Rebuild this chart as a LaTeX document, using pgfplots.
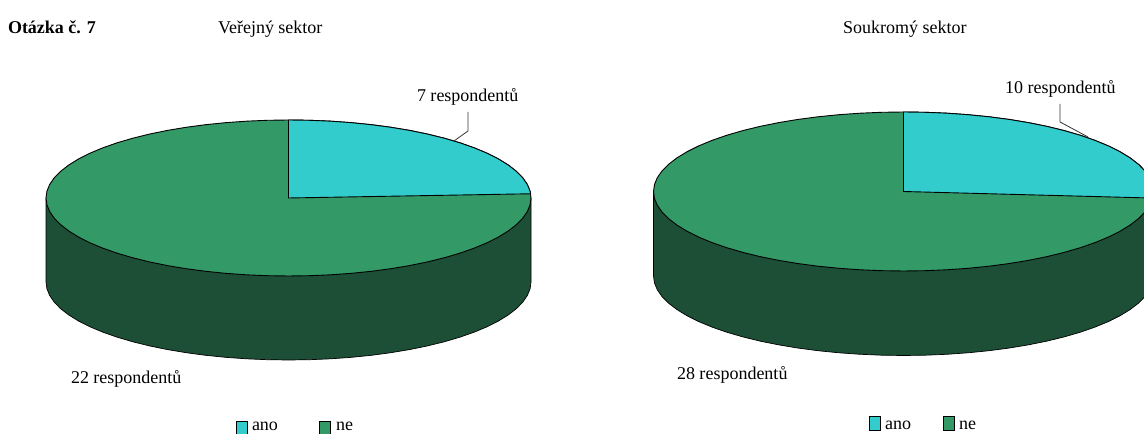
\documentclass[border=0pt]{standalone}
\usepackage{pgfplots}
\usepackage{pgfplotstable}
\usepackage{fontspec}
\setmainfont{Liberation Serif}
\pgfplotsset{compat=1.18}

\definecolor{ano}{HTML}{33CCCC}
\definecolor{ne}{HTML}{339966}
\definecolor{wall}{HTML}{1C4F35}

% Unit ellipse, 5 degree steps: the "ne" disc
\pgfplotstableread{
c s
1.0000 0.0000
0.9962 0.0872
0.9848 0.1736
0.9659 0.2588
0.9397 0.3420
0.9063 0.4226
0.8660 0.5000
0.8192 0.5736
0.7660 0.6428
0.7071 0.7071
0.6428 0.7660
0.5736 0.8192
0.5000 0.8660
0.4226 0.9063
0.3420 0.9397
0.2588 0.9659
0.1736 0.9848
0.0872 0.9962
0.0000 1.0000
-0.0872 0.9962
-0.1736 0.9848
-0.2588 0.9659
-0.3420 0.9397
-0.4226 0.9063
-0.5000 0.8660
-0.5736 0.8192
-0.6428 0.7660
-0.7071 0.7071
-0.7660 0.6428
-0.8192 0.5736
-0.8660 0.5000
-0.9063 0.4226
-0.9397 0.3420
-0.9659 0.2588
-0.9848 0.1736
-0.9962 0.0872
-1.0000 0.0000
-0.9962 -0.0872
-0.9848 -0.1736
-0.9659 -0.2588
-0.9397 -0.3420
-0.9063 -0.4226
-0.8660 -0.5000
-0.8192 -0.5736
-0.7660 -0.6428
-0.7071 -0.7071
-0.6428 -0.7660
-0.5736 -0.8192
-0.5000 -0.8660
-0.4226 -0.9063
-0.3420 -0.9397
-0.2588 -0.9659
-0.1736 -0.9848
-0.0872 -0.9962
0.0000 -1.0000
0.0872 -0.9962
0.1736 -0.9848
0.2588 -0.9659
0.3420 -0.9397
0.4226 -0.9063
0.5000 -0.8660
0.5736 -0.8192
0.6428 -0.7660
0.7071 -0.7071
0.7660 -0.6428
0.8192 -0.5736
0.8660 -0.5000
0.9063 -0.4226
0.9397 -0.3420
0.9659 -0.2588
0.9848 -0.1736
0.9962 -0.0872
}\discpoints

% Side wall: the front half of the rim, d = 1 sits at the lower edge
\pgfplotstableread{
c s d
-1.0000 0.0000 0
-1.0000 0.0000 1
-0.9962 -0.0872 1
-0.9848 -0.1736 1
-0.9659 -0.2588 1
-0.9397 -0.3420 1
-0.9063 -0.4226 1
-0.8660 -0.5000 1
-0.8192 -0.5736 1
-0.7660 -0.6428 1
-0.7071 -0.7071 1
-0.6428 -0.7660 1
-0.5736 -0.8192 1
-0.5000 -0.8660 1
-0.4226 -0.9063 1
-0.3420 -0.9397 1
-0.2588 -0.9659 1
-0.1736 -0.9848 1
-0.0872 -0.9962 1
0.0000 -1.0000 1
0.0872 -0.9962 1
0.1736 -0.9848 1
0.2588 -0.9659 1
0.3420 -0.9397 1
0.4226 -0.9063 1
0.5000 -0.8660 1
0.5736 -0.8192 1
0.6428 -0.7660 1
0.7071 -0.7071 1
0.7660 -0.6428 1
0.8192 -0.5736 1
0.8660 -0.5000 1
0.9063 -0.4226 1
0.9397 -0.3420 1
0.9659 -0.2588 1
0.9848 -0.1736 1
0.9962 -0.0872 1
1.0000 0.0000 1
1.0000 0.0000 0
}\wallpoints

% "ano" slice, public sector: 7 of 29 respondents, 86.9 degrees clockwise from the top
\pgfplotstableread{
c s
0.0000 0.0000
0.0000 1.0000
0.0872 0.9962
0.1736 0.9848
0.2588 0.9659
0.3420 0.9397
0.4226 0.9063
0.5000 0.8660
0.5736 0.8192
0.6428 0.7660
0.7071 0.7071
0.7660 0.6428
0.8192 0.5736
0.8660 0.5000
0.9063 0.4226
0.9397 0.3420
0.9659 0.2588
0.9848 0.1736
0.9962 0.0872
0.9985 0.0541
}\sliceA

% "ano" slice, private sector: 10 of 38 respondents, 94.7 degrees clockwise from the top
\pgfplotstableread{
c s
0.0000 0.0000
0.0000 1.0000
0.0872 0.9962
0.1736 0.9848
0.2588 0.9659
0.3420 0.9397
0.4226 0.9063
0.5000 0.8660
0.5736 0.8192
0.6428 0.7660
0.7071 0.7071
0.7660 0.6428
0.8192 0.5736
0.8660 0.5000
0.9063 0.4226
0.9397 0.3420
0.9659 0.2588
0.9848 0.1736
0.9962 0.0872
1.0000 0.0000
0.9966 -0.0826
}\sliceB

\newcommand{\lab}{\fontsize{18bp}{22bp}\selectfont}
\tikzset{t/.style={font=\lab, inner sep=0pt, outer sep=0pt, anchor=base west}}

% One pie: centre x, centre y, rx, ry, depth, slice table
\newcommand{\pie}[6]{%
  \addplot[fill=wall, draw=black, line width=0.7bp]
    table[x expr=#1+#3*\thisrow{c}, y expr=#2-#4*\thisrow{s}+#5*\thisrow{d}] {\wallpoints} --cycle;
  \addplot[fill=ne, draw=black, line width=0.9bp]
    table[x expr=#1+#3*\thisrow{c}, y expr=#2-#4*\thisrow{s}] {\discpoints} --cycle;
  \addplot[fill=ano, draw=black, line width=0.9bp]
    table[x expr=#1+#3*\thisrow{c}, y expr=#2-#4*\thisrow{s}] {#6} --cycle;
}

\begin{document}
\begin{tikzpicture}[x=1bp,y=1bp]
\useasboundingbox (0,0) rectangle (1144,434);
\begin{axis}[
  at={(0,0)}, anchor=south west,
  width=1144bp, height=434bp, scale only axis,
  xmin=0, xmax=1144, ymin=0, ymax=434, y dir=reverse,
  hide axis, clip=true,
]
\pie{288.5}{198}{242.5}{78}{84}{\sliceA}
\pie{903.5}{191.5}{250}{79.5}{84.5}{\sliceB}

% Leader lines to the "ano" slices
\addplot[draw=black!80, line width=0.8bp] coordinates {(468,112) (468,131) (454,141)};
\addplot[draw=black!80, line width=0.8bp] coordinates {(1060,104) (1060,122) (1088,137)};

% Legend keys
\addplot[fill=ano, draw=black, line width=0.7bp] coordinates {(236.5,421.5) (247,421.5) (247,436) (236.5,436)} --cycle;
\addplot[fill=ne, draw=black, line width=0.7bp] coordinates {(319.5,421.5) (330.5,421.5) (330.5,436) (319.5,436)} --cycle;
\addplot[fill=ano, draw=black, line width=0.7bp] coordinates {(869,416.5) (880,416.5) (880,430.5) (869,430.5)} --cycle;
\addplot[fill=ne, draw=black, line width=0.7bp] coordinates {(943.5,416.5) (954.5,416.5) (954.5,430.5) (943.5,430.5)} --cycle;

\node[t] at (axis cs:8,33.5) {\bfseries Otázka č. 7};
\node[t] at (axis cs:218,33.5) {Veřejný sektor};
\node[t] at (axis cs:843,33.5) {Soukromý sektor};
\node[t] at (axis cs:417,101.5) {7 respondentů};
\node[t] at (axis cs:1005,93.5) {10 respondentů};
\node[t] at (axis cs:71,383.5) {22 respondentů};
\node[t] at (axis cs:677,379.5) {28 respondentů};
\node[t] at (axis cs:252,431) {ano};
\node[t] at (axis cs:336,431) {ne};
\node[t] at (axis cs:885,430) {ano};
\node[t] at (axis cs:959,430) {ne};
\end{axis}
\end{tikzpicture}
\end{document}
